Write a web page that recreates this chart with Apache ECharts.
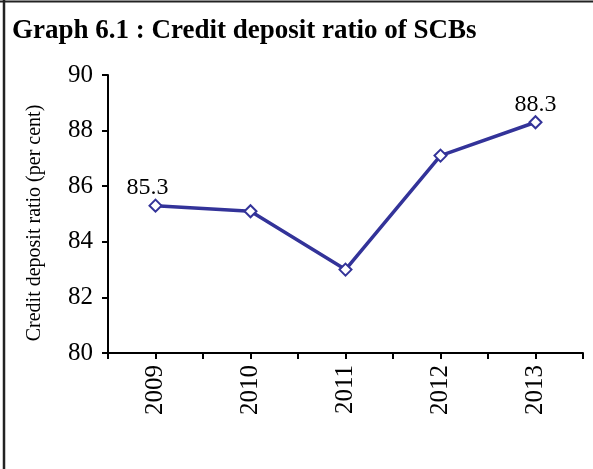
<!DOCTYPE html>
<html>
<head>
<meta charset="utf-8">
<script src="https://cdn.jsdelivr.net/npm/echarts@6/dist/echarts.min.js"></script>
<style>
    html, body { margin: 0; padding: 0; background: #fff; }
    #chart { width: 593px; height: 469px; }
</style>
</head>
<body>
<div id="chart"></div>
<script>
var years = ['2009', '2010', '2011', '2012', '2013'];
var cdRatio = [85.3, 85.1, 83.0, 87.1, 88.3];
var labelled = [0, 4]; // points that carry a value label

var serif = 'Liberation Serif';
var lineColor = '#333399';

var chart = echarts.init(document.getElementById('chart'));

var pointData = [];
for (var i = 0; i < cdRatio.length; i++) {
    var item = { value: cdRatio[i] };
    if (labelled.indexOf(i) >= 0) {
        item.label = { show: true };
        if (i == 0) item.label.offset = [-8, 0];
    }
    pointData.push(item);
}

chart.setOption({
    animation: false,
    title: {
        text: 'Graph 6.1 : Credit deposit ratio of SCBs',
        left: 7,
        top: 13,
        textStyle: { fontFamily: serif, fontWeight: 'bold', fontSize: 27, color: '#000' }
    },
    graphic: [
        { type: 'line', shape: { x1: 0, y1: 1.5, x2: 593, y2: 1.5 }, style: { stroke: '#222', lineWidth: 2 } },
        { type: 'line', shape: { x1: 4, y1: 0, x2: 4, y2: 469 }, style: { stroke: '#222', lineWidth: 2.5 } }
    ],
    grid: { left: 108, right: 10, top: 75, bottom: 116 },
    xAxis: [{
        type: 'category',
        data: years,
        boundaryGap: true,
        axisLine: { lineStyle: { color: '#000', width: 2 } },
        axisTick: { show: true, length: 6, interval: 0, lineStyle: { color: '#000', width: 2 } },
        axisLabel: {
            rotate: 90, margin: 12, interval: 0,
            fontFamily: serif, fontSize: 25, color: '#000'
        }
    }, {
        type: 'category',
        data: years,
        position: 'bottom',
        boundaryGap: true,
        axisLine: { show: false },
        axisTick: { show: true, alignWithLabel: true, length: 6, interval: 0, lineStyle: { color: '#000', width: 2 } },
        axisLabel: { show: false }
    }],
    yAxis: {
        type: 'value',
        min: 80,
        max: 90,
        interval: 2,
        name: 'Credit deposit ratio (per cent)',
        nameLocation: 'middle',
        nameGap: 63,
        nameTextStyle: { fontFamily: serif, fontSize: 20, color: '#000', padding: [0, 18, 0, 0] },
        axisLine: { show: true, lineStyle: { color: '#000', width: 2 } },
        axisTick: { show: true, length: 6, lineStyle: { color: '#000', width: 2 } },
        axisLabel: { fontFamily: serif, fontSize: 25, color: '#000', margin: 15 },
        splitLine: { show: false }
    },
    series: [{
        type: 'line',
        data: pointData,
        symbol: 'diamond',
        symbolSize: 12,
        lineStyle: { color: lineColor, width: 3.5 },
        itemStyle: { color: '#fff', borderColor: lineColor, borderWidth: 2 },
        label: {
            show: false,
            position: 'top',
            distance: -1,
            fontFamily: serif,
            fontSize: 24,
            color: '#000'
        }
    }]
});
</script>
</body>
</html>
